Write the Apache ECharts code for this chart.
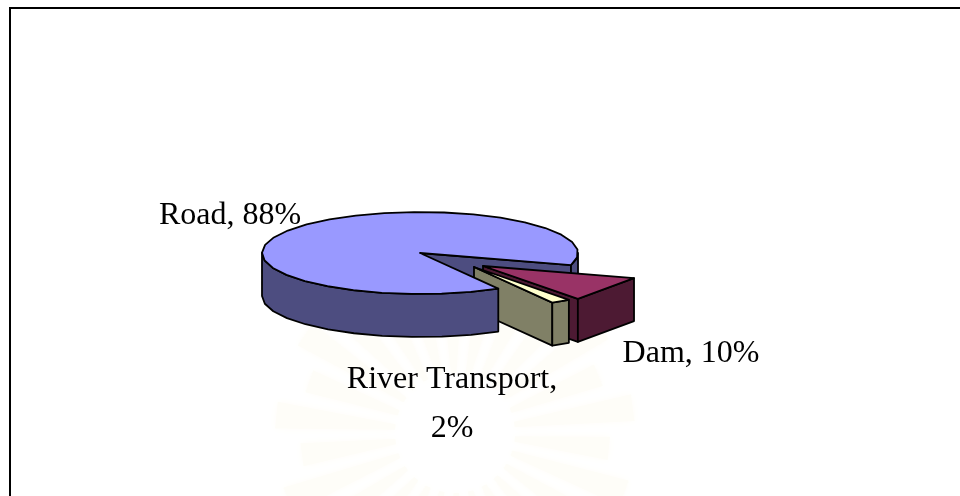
<!DOCTYPE html>
<html>
<head>
<meta charset="utf-8">
<style>html,body{margin:0;padding:0;background:#fff}#c{width:960px;height:496px}</style>
<script src="https://cdn.jsdelivr.net/npm/echarts@6/dist/echarts.min.js"></script>
</head>
<body>
<div id="c"></div>
<script>
var categories = ['Road', 'Dam', 'River Transport'];
var seriesValues = [88, 10, 2];
var topColors = ['#9999ff', '#993366', '#ffffcc'];
var sideColors = ['#4d4d80', '#4d1a33', '#808066'];

// layout of the tilted pie
var CX = 420, CY = 253, RX = 158, RY = 41, DEPTH = 43, START = 60.3;
var steps = [11, 40, 10];
var offsets = [[0, 0], [63, 13], [54, 14]];
var labelPos = [[230, 216, 'center'], [691, 354, 'center'], [452, 355, 'center']];

var chart = echarts.init(document.getElementById('c'), null, {renderer: 'canvas'});
var total = seriesValues.reduce(function (a, b) { return a + b; }, 0);

function pt(cx, cy, deg, dz) {
  var r = deg * Math.PI / 180;
  return [cx + RX * Math.cos(r), cy + RY * Math.sin(r) + (dz || 0)];
}
function arc(cx, cy, a, b, dz, step) {
  var out = [], n = Math.max(1, Math.ceil((b - a) / step));
  for (var i = 0; i <= n; i++) out.push(pt(cx, cy, a + (b - a) * i / n, dz));
  return out;
}
function poly(points, fill, z2) {
  return {
    type: 'polygon',
    z2: z2,
    shape: {points: points},
    style: {fill: fill, stroke: '#000', lineWidth: 1.8, lineJoin: 'round'}
  };
}

function renderItem(params, api) {
  var idx = params.dataIndex, before = 0;
  for (var i = 0; i < idx; i++) before += seriesValues[i];
  var a = START + before / total * 360;
  var b = a + api.value(0) / total * 360;
  var cx = CX + offsets[idx][0], cy = CY + offsets[idx][1];
  var step = steps[idx];
  var children = [];
  // the big slice wraps round the two exploded ones: its far cut face and
  // far rim go behind them, its near wall and top go in front of them
  var back = idx === 0 ? 1 : 2 + idx, front = idx === 0 ? 6 : 2 + idx;

  // cut faces that look towards the viewer
  [[a, -1], [b, 1]].forEach(function (f) {
    var c = Math.cos(f[0] * Math.PI / 180) * f[1];
    if (c > 0) {
      var p = pt(cx, cy, f[0]);
      children.push(poly([[cx, cy], p, [p[0], p[1] + DEPTH], [cx, cy + DEPTH]], sideColors[idx], back));
    }
  });
  // outer wall: only the front half of the rim
  [[0, 180, front], [360, 540, back]].forEach(function (r) {
    var s = Math.max(a, r[0]), e = Math.min(b, r[1]);
    if (e > s) {
      var up = arc(cx, cy, s, e, 0, step), down = arc(cx, cy, s, e, DEPTH, step).reverse();
      children.push(poly(up.concat(down), sideColors[idx], r[2]));
    }
  });
  // top face
  children.push(poly([[cx, cy]].concat(arc(cx, cy, a, b, 0, step)), topColors[idx], front));

  var lp = labelPos[idx];
  var name = categories[idx], pct = api.value(0) + '%';
  var wrap = name.length > 10;
  children.push({
    type: 'text',
    z2: 10,
    style: {
      text: wrap ? name + ',\n' + pct : name + ', ' + pct,
      x: lp[0], y: lp[1], align: lp[2], verticalAlign: wrap ? 'top' : 'middle',
      font: '32px "Liberation Serif", "Times New Roman", serif', fill: '#000', lineHeight: 49
    }
  });
  return {type: 'group', children: children};
}

// faint seal watermark behind the picture
var WX = 455, WY = 433, rays = [];
for (var k = 0; k < 26; k++) {
  var t = k / 26 * Math.PI * 2 + 0.1, w = 0.075;
  var r0 = 60, r1 = 155 + (k % 2) * 25;
  rays.push({
    type: 'polygon',
    z: 0,
    silent: true,
    shape: {points: [
      [WX + r0 * Math.cos(t - w * 0.6), WY + r0 * Math.sin(t - w * 0.6)],
      [WX + r1 * Math.cos(t - w), WY + r1 * Math.sin(t - w)],
      [WX + r1 * Math.cos(t + w), WY + r1 * Math.sin(t + w)],
      [WX + r0 * Math.cos(t + w * 0.6), WY + r0 * Math.sin(t + w * 0.6)]
    ]},
    style: {fill: '#fefdf8', shadowBlur: 8, shadowColor: '#fefdf8'}
  });
}

chart.setOption({
  animation: false,
  backgroundColor: '#ffffff',
  graphic: rays.concat([
    {type: 'line', z: 1, shape: {x1: 10, y1: 8, x2: 960, y2: 8}, style: {stroke: '#000', lineWidth: 2}},
    {type: 'line', z: 1, shape: {x1: 10, y1: 7, x2: 10, y2: 496}, style: {stroke: '#000', lineWidth: 2}}
  ]),
  series: [{
    type: 'custom',
    coordinateSystem: 'none',
    renderItem: renderItem,
    silent: true,
    z: 5,
    data: seriesValues.map(function (v, i) { return {name: categories[i], value: [v]}; })
  }]
});
</script>
</body>
</html>
